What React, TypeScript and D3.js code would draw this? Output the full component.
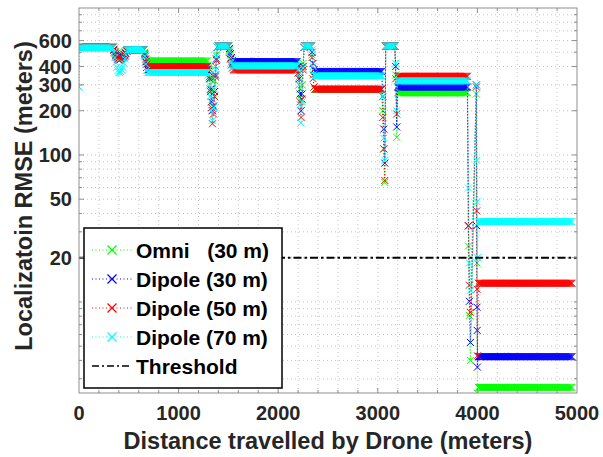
import React from "react";
import * as d3 from "d3";

// Plot frame in page pixels
const W = 603;
const H = 457;
const PLOT = { left: 79, right: 577, top: 8, bottom: 393 };

const xDomain: [number, number] = [0, 5000];
const yDomain: [number, number] = [2.4, 1000];
const xTickValues = [0, 1000, 2000, 3000, 4000, 5000];
const yTickValues = [20, 50, 100, 200, 300, 400, 600];
const thresholdValue = 20;
const sampleStep = 10; // metres between position estimates along the flight

type Run = [number, number, number]; // [from distance, to distance, RMSE]
type Pt = [number, number]; // [distance, RMSE]

// ---- Omni (30 m) ----
const omniRuns: Run[] = [
  [0, 340, 540], [500, 650, 520], [690, 1290, 436], [1400, 1500, 550],
  [1550, 2190, 420], [2270, 2330, 550], [2370, 3030, 280], [3080, 3170, 550],
  [3200, 3900, 265], [4010, 4950, 2.62],
];
const omniPoints: Pt[] = [
  [350, 520], [360, 505], [370, 490], [380, 475], [390, 465], [400, 460], [410, 462], [420, 470],
  [430, 480], [440, 490], [450, 500], [460, 505], [470, 510], [480, 520], [490, 525],
  [660, 500], [670, 470], [680, 445],
  [1300, 410], [1310, 380], [1320, 330], [1330, 280], [1340, 240], [1350, 260], [1360, 320],
  [1370, 400], [1380, 480], [1390, 540],
  [1510, 520], [1520, 480], [1530, 450], [1540, 430],
  [2200, 400], [2210, 340], [2220, 280], [2230, 240], [2240, 300], [2250, 420], [2260, 540],
  [2340, 480], [2350, 350], [2360, 290],
  [3040, 280], [3050, 200], [3060, 110], [3070, 65], [3180, 350], [3190, 132],
  [3910, 24], [3920, 8.1], [3930, 4.0], [3990, 260], [3995, 18.4], [4000, 2.4],
];

// ---- Dipole (30 m) ----
const dipole30Runs: Run[] = [
  [0, 340, 540], [500, 650, 520], [690, 1290, 380], [1400, 1500, 550],
  [1550, 2190, 432], [2270, 2330, 550], [2370, 3030, 370], [3080, 3170, 550],
  [3200, 3900, 290], [4010, 4950, 4.24],
];
const dipole30Points: Pt[] = [
  [350, 515], [360, 495], [370, 475], [380, 460], [390, 450], [400, 445], [410, 448], [420, 455],
  [430, 465], [440, 470], [450, 460], [460, 470], [470, 490], [480, 510], [490, 520],
  [660, 480], [670, 430], [680, 395],
  [1300, 370], [1310, 330], [1320, 280], [1330, 230], [1340, 200], [1350, 215], [1360, 270],
  [1370, 350], [1380, 450], [1390, 540],
  [1510, 530], [1520, 490], [1530, 460], [1540, 440],
  [2200, 400], [2210, 330], [2220, 260], [2230, 200], [2240, 260], [2250, 400], [2260, 540],
  [2340, 500], [2350, 420], [2360, 380],
  [3040, 370], [3050, 250], [3060, 150], [3070, 88], [3180, 400], [3190, 155],
  [3910, 33], [3920, 10.1], [3930, 5.3], [3990, 300], [3993, 33], [3996, 9.2], [3998, 6.4], [4000, 3.6],
];

// ---- Dipole (50 m) ----
const dipole50Runs: Run[] = [
  [0, 340, 540], [500, 650, 520], [690, 1290, 399], [1400, 1500, 550],
  [1550, 2190, 379], [2270, 2330, 550], [2370, 3030, 280], [3080, 3170, 550],
  [3200, 3900, 343], [4010, 4950, 13.4],
];
const dipole50Points: Pt[] = [
  [350, 525], [360, 505], [370, 485], [380, 465], [390, 450], [400, 440], [410, 442], [420, 450],
  [430, 460], [440, 475], [450, 485], [460, 480], [470, 495], [480, 510], [490, 520],
  [660, 490], [670, 450], [680, 415],
  [1300, 390], [1310, 340], [1320, 270], [1330, 210], [1340, 163], [1350, 190], [1360, 250],
  [1370, 340], [1380, 440], [1390, 540],
  [1510, 500], [1520, 450], [1530, 410], [1540, 390],
  [2200, 360], [2210, 300], [2220, 230], [2230, 180], [2240, 240], [2250, 380], [2260, 540],
  [2340, 460], [2350, 330], [2360, 290],
  [3040, 280], [3050, 180], [3060, 110], [3070, 67], [3180, 330], [3190, 190],
  [3910, 32.9], [3920, 13.0], [3930, 8.5], [3990, 290], [3993, 41.6], [3996, 12.2], [4000, 4.3],
];

// ---- Dipole (70 m) ----
const dipole70Runs: Run[] = [
  [10, 340, 535], [500, 650, 520], [690, 1290, 364], [1400, 1500, 550],
  [1550, 2190, 404], [2270, 2330, 550], [2370, 3030, 345], [3080, 3170, 550],
  [3200, 3900, 319], [4010, 4950, 35.2],
];
const dipole70Points: Pt[] = [
  [0, 290],
  [350, 500], [360, 460], [370, 425], [380, 395], [390, 375], [400, 365], [410, 362], [420, 368],
  [430, 380], [440, 395], [450, 420], [460, 450], [470, 480], [480, 505], [490, 520],
  [660, 470], [670, 415], [680, 378],
  [1300, 350], [1310, 300], [1320, 250], [1330, 200], [1340, 172], [1350, 210], [1360, 280],
  [1370, 380], [1380, 470], [1390, 540],
  [1510, 510], [1520, 460], [1530, 430], [1540, 410],
  [2200, 380], [2210, 300], [2220, 220], [2230, 165], [2240, 230], [2250, 390], [2260, 540],
  [2340, 520], [2350, 400], [2360, 355],
  [3040, 345], [3050, 250], [3060, 130], [3070, 92], [3180, 420], [3190, 200],
  [3910, 59.6], [3920, 18.4], [3930, 12], [3990, 300], [3993, 92], [3996, 48], [4000, 20],
];

const seriesLabels = ["Omni   (30 m)", "Dipole (30 m)", "Dipole (50 m)", "Dipole (70 m)"];
const seriesColors = ["#00ff00", "#0000ff", "#ff0000", "#00ffff"];

// Constant stretches are reported at every sample position along the path
function buildSeries(runs: Run[], points: Pt[]): Pt[] {
  const out: Pt[] = [...points];
  for (const [d0, d1, v] of runs) {
    for (let d = d0; d <= d1; d += sampleStep) out.push([d, v]);
  }
  return out.sort((a, b) => a[0] - b[0]);
}

const allSeries = [
  buildSeries(omniRuns, omniPoints),
  buildSeries(dipole30Runs, dipole30Points),
  buildSeries(dipole50Runs, dipole50Points),
  buildSeries(dipole70Runs, dipole70Points),
];

const FONT = "'Liberation Sans', Arial, Helvetica, sans-serif";
const TEXT = "#262626";

function crossPath(pts: [number, number][], s: number): string {
  return pts
    .map(([x, y]) => `M${x - s},${y - s}L${x + s},${y + s}M${x - s},${y + s}L${x + s},${y - s}`)
    .join("");
}

export default function App() {
  const x = d3.scaleLinear().domain(xDomain).range([PLOT.left, PLOT.right]);
  const y = d3.scaleLog().domain(yDomain).range([PLOT.bottom, PLOT.top]);

  const line = d3
    .line<Pt>()
    .x((d) => x(d[0]))
    .y((d) => y(d[1]));

  // minor grid/ticks
  const xMinor = d3.range(200, 5000, 200);
  const yMinor: number[] = [];
  for (const dec of [1, 10, 100]) {
    for (let k = 1; k <= 9; k++) {
      const v = k * dec;
      if (v > yDomain[0] && v < yDomain[1]) yMinor.push(v);
    }
  }

  const gridColor = "#c4c4c4";
  const frameColor = "#8f8f8f";
  const majorLen = 5;
  const minorLen = 3;

  const legendX0 = 84;
  const legendY0 = 228;
  const legendW = 198;
  const legendH = 160;
  const rowY = (i: number) => 250 + i * 29;

  return (
    <svg width={W} height={H} style={{ display: "block", position: "absolute", left: 0, top: 0 }}>
      <rect x={0} y={0} width={W} height={H} fill="#ffffff" />
      <defs>
        <clipPath id="plotClip">
          <rect x={PLOT.left} y={PLOT.top} width={PLOT.right - PLOT.left} height={PLOT.bottom - PLOT.top} />
        </clipPath>
      </defs>

      {/* grid */}
      <g stroke={gridColor} strokeWidth={1} strokeDasharray="1 3">
        {xMinor.map((v) => (
          <line key={"gx" + v} x1={x(v)} x2={x(v)} y1={PLOT.top} y2={PLOT.bottom} />
        ))}
        {yMinor.map((v) => (
          <line key={"gy" + v} x1={PLOT.left} x2={PLOT.right} y1={y(v)} y2={y(v)} />
        ))}
      </g>

      {/* series */}
      <g clipPath="url(#plotClip)">
        {allSeries.map((pts, i) => (
          <g key={"s" + i}>
            <path d={line(pts) || ""} fill="none" stroke={seriesColors[i]} strokeWidth={1} strokeDasharray="1 2" />
            <path
              d={crossPath(pts.map((p) => [x(p[0]), y(p[1])] as [number, number]), 3.5)}
              fill="none"
              stroke={seriesColors[i]}
              strokeWidth={1}
            />
          </g>
        ))}
        <line
          x1={PLOT.left}
          x2={PLOT.right}
          y1={y(thresholdValue)}
          y2={y(thresholdValue)}
          stroke="#000"
          strokeWidth={2}
          strokeDasharray="8 3 2.5 3"
        />
      </g>

      {/* frame and ticks */}
      <rect
        x={PLOT.left}
        y={PLOT.top}
        width={PLOT.right - PLOT.left}
        height={PLOT.bottom - PLOT.top}
        fill="none"
        stroke={frameColor}
        strokeWidth={1}
      />
      <g stroke={frameColor} strokeWidth={1}>
        {xMinor.map((v) => (
          <g key={"tx" + v}>
            <line x1={x(v)} x2={x(v)} y1={PLOT.bottom} y2={PLOT.bottom - (v % 1000 === 0 ? majorLen : minorLen)} />
            <line x1={x(v)} x2={x(v)} y1={PLOT.top} y2={PLOT.top + (v % 1000 === 0 ? majorLen : minorLen)} />
          </g>
        ))}
        {yMinor.map((v) => {
          const len = yTickValues.includes(v) ? majorLen : minorLen;
          return (
            <g key={"ty" + v}>
              <line x1={PLOT.left} x2={PLOT.left + len} y1={y(v)} y2={y(v)} />
              <line x1={PLOT.right} x2={PLOT.right - len} y1={y(v)} y2={y(v)} />
            </g>
          );
        })}
      </g>

      {/* tick labels */}
      <g fontFamily={FONT} fontWeight="bold" fontSize={20} fill={TEXT}>
        {xTickValues.map((v) => (
          <text key={"lx" + v} x={x(v)} y={420} textAnchor="middle">
            {v}
          </text>
        ))}
        {yTickValues.map((v) => (
          <text key={"ly" + v} x={72} y={y(v)} dy="0.36em" textAnchor="end">
            {v}
          </text>
        ))}
      </g>

      {/* axis titles */}
      <text
        x={(PLOT.left + PLOT.right) / 2}
        y={449}
        textAnchor="middle"
        fontFamily={FONT}
        fontWeight="bold"
        fontSize={23.5}
        fill={TEXT}
      >
        Distance travelled by Drone (meters)
      </text>
      <text
        transform={`translate(32, 196) rotate(-90)`}
        textAnchor="middle"
        fontFamily={FONT}
        fontWeight="bold"
        fontSize={23.5}
        fill={TEXT}
      >
        Localizatoin RMSE (meters)
      </text>

      {/* legend */}
      <g>
        <rect x={legendX0} y={legendY0} width={legendW} height={legendH} fill="#fff" stroke="#000" strokeWidth={1.5} />
        {seriesLabels.map((lab, i) => (
          <g key={"lg" + i}>
            <line x1={92} x2={132} y1={rowY(i)} y2={rowY(i)} stroke={seriesColors[i]} strokeWidth={1} strokeDasharray="1 2.5" />
            <path d={crossPath([[112, rowY(i)]], 4.5)} stroke={seriesColors[i]} strokeWidth={1.2} fill="none" />
            <text
              x={136}
              y={rowY(i)}
              dy="0.36em"
              fontFamily={FONT}
              fontWeight="bold"
              fontSize={21}
              fill="#000"
              style={{ whiteSpace: "pre" }}
            >
              {lab}
            </text>
          </g>
        ))}
        <line x1={92} x2={130} y1={rowY(4)} y2={rowY(4)} stroke="#000" strokeWidth={1.5} strokeDasharray="7 3 2 3" />
        <text x={136} y={rowY(4)} dy="0.36em" fontFamily={FONT} fontWeight="bold" fontSize={21} fill="#000">
          Threshold
        </text>
      </g>
    </svg>
  );
}
